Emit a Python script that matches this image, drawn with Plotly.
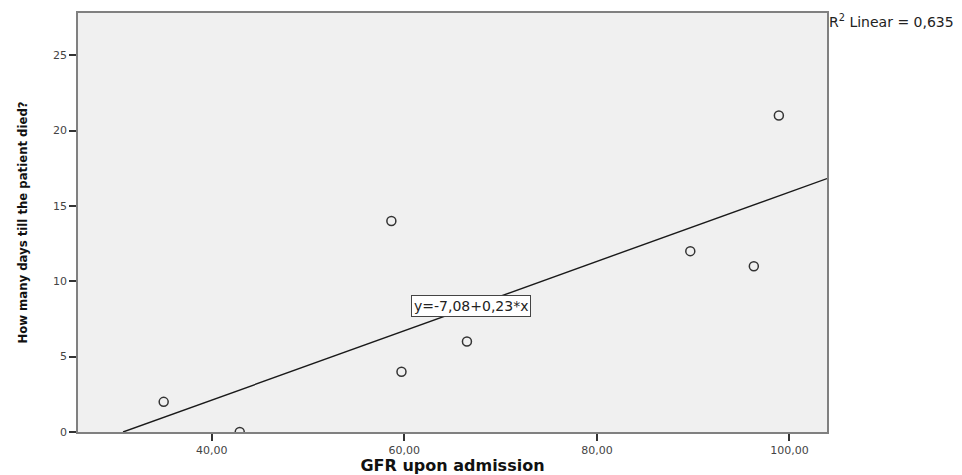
import plotly.graph_objects as go
import numpy as np

gfr = [35.0, 42.9, 58.65, 59.7, 66.5, 89.7, 96.3, 98.9]
days = [2, 0, 14, 4, 6, 12, 11, 21]
intercept = -7.08
slope = 0.23
x_range = [26.1, 103.9]
y_range = [0, 27.8]
x_ticks = [40, 60, 80, 100]
y_ticks = [0, 5, 10, 15, 20, 25]

line_x = np.array([-intercept / slope, x_range[1]])
line_y = intercept + slope * line_x

fig = go.Figure()
fig.add_trace(go.Scatter(x=line_x, y=line_y, mode="lines",
                         line=dict(color="#1a1a1a", width=1.4), showlegend=False))
fig.add_trace(go.Scatter(x=gfr, y=days, mode="markers",
                         marker=dict(symbol="circle-open", size=9, color="#333333",
                                     line=dict(color="#333333", width=1.5)),
                         showlegend=False))

fig.add_annotation(x=66.96, y=8.36, text="y=-7,08+0,23*x", showarrow=False,
                   font=dict(family="DejaVu Sans", size=14, color="#222"),
                   bgcolor="white", bordercolor="#444", borderwidth=1, borderpad=2)
fig.add_annotation(x=1.0, y=1.0, xref="paper", yref="paper", xanchor="left", yanchor="top",
                   text="R<sup>2</sup> Linear = 0,635", showarrow=False,
                   font=dict(family="DejaVu Sans", size=14, color="#222"),
                   xshift=0, yshift=3)

fig.update_layout(
    width=954, height=467,
    margin=dict(l=70, r=135, t=5, b=43),
    paper_bgcolor="white", plot_bgcolor="#f0f0f0",
    separators=",.",
    xaxis=dict(range=x_range, tickvals=x_ticks, tickformat=".2f", automargin=False,
               ticks="outside", ticklen=7, tickwidth=1.5, tickcolor="#333",
               showgrid=False, zeroline=False, showline=True, linecolor="#808080",
               linewidth=1.5, mirror=True,
               tickfont=dict(family="DejaVu Sans", size=11, color="#444"),
               title=dict(text="<b>GFR upon admission</b>", standoff=6,
                          font=dict(family="DejaVu Sans", size=16, color="#111"))),
    yaxis=dict(range=y_range, tickvals=y_ticks, automargin=False,
               ticks="outside", ticklen=7, tickwidth=1.5, tickcolor="#333",
               showgrid=False, zeroline=False, showline=True, linecolor="#808080",
               linewidth=1.5, mirror=True,
               tickfont=dict(family="DejaVu Sans", size=11, color="#444"),
               title=dict(text="<b>How many days till the patient died?</b>", standoff=22,
                          font=dict(family="DejaVu Sans Condensed", size=13, color="#111"))),
)

fig.write_html("out.html")
